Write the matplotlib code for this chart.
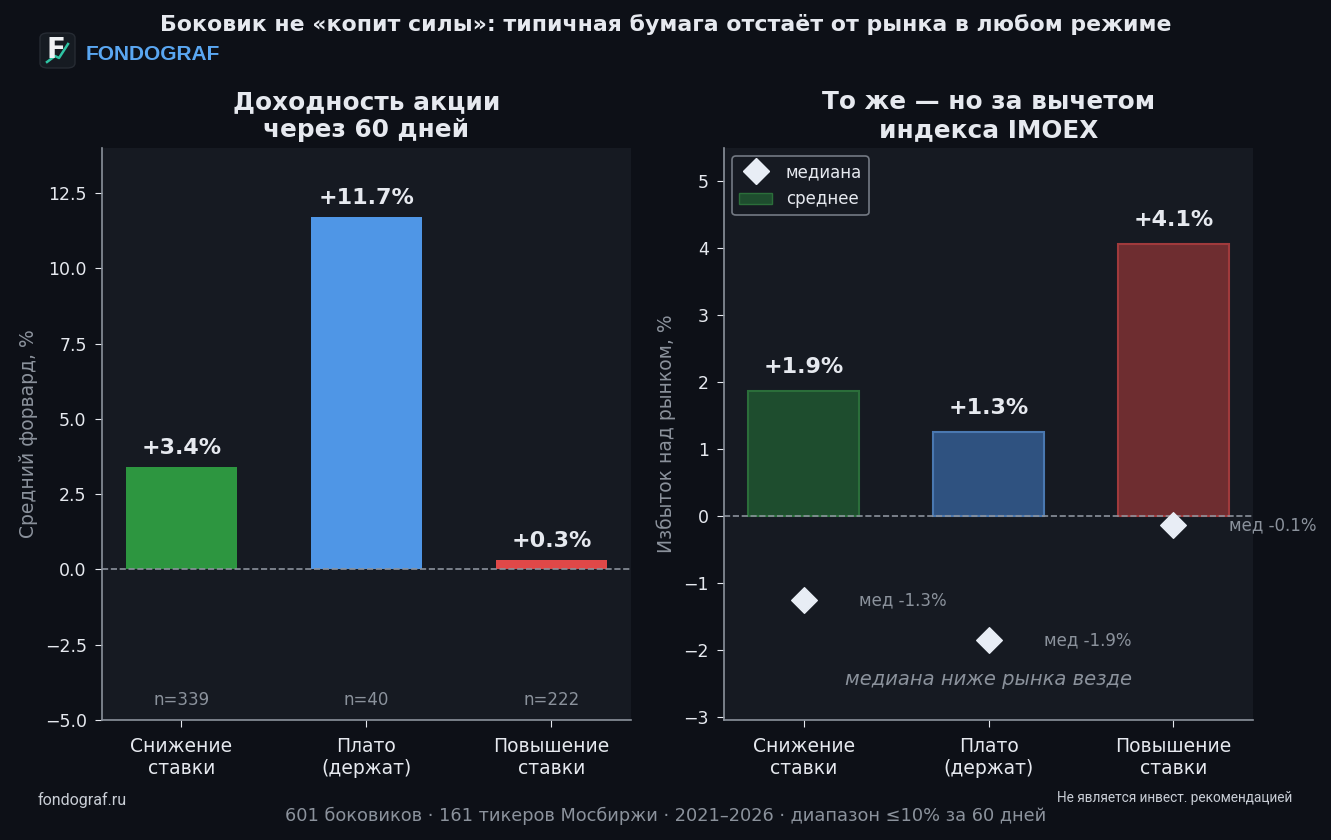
import matplotlib.pyplot as plt
from matplotlib.patches import FancyBboxPatch, Patch
from matplotlib.lines import Line2D

plt.rcParams['font.family'] = ['DejaVu Sans']

# данные
regimes = ["Снижение\nставки", "Плато\n(держат)", "Повышение\nставки"]
mean_fwd = [3.4, 11.7, 0.3]
counts = [339, 40, 222]
mean_excess = [1.87, 1.26, 4.07]
median_excess = [-1.26, -1.86, -0.14]

bg = "#0d1017"
ax_bg = "#161a22"
txt = "#e6e9ef"
grey = "#8b929c"
colors = ["#2d9640", "#4f96e6", "#e04848"]
face2 = ["#1e4d2e", "#2f5280", "#6e2d30"]
edge2 = ["#2b6e3a", "#4a78b0", "#a03a3c"]

fig = plt.figure(figsize=(13.31, 8.4), dpi=100, facecolor=bg)
ax1 = fig.add_axes([0.0766, 0.1429, 0.3974, 0.6809])
ax2 = fig.add_axes([0.544, 0.1429, 0.3974, 0.6809])

x = list(range(len(regimes)))

for ax in (ax1, ax2):
    ax.set_facecolor(ax_bg)
    for s in ("top", "right"):
        ax.spines[s].set_visible(False)
    for s in ("left", "bottom"):
        ax.spines[s].set_color(grey)
        ax.spines[s].set_linewidth(1.2)
    ax.tick_params(colors=txt, labelsize=12.5, length=5, pad=6)
    ax.set_xticks(x)
    ax.set_xticklabels(regimes, fontsize=13.5, color=txt)
    ax.tick_params(axis="x", pad=7)
    ax.set_xlim(-0.43, 2.43)

# левый график
ax1.bar(x, mean_fwd, width=0.6, color=colors)
ax1.axhline(0, color=grey, ls="--", lw=1.2)
ax1.set_ylim(-5, 14)
ax1.set_yticks([-5, -2.5, 0, 2.5, 5, 7.5, 10, 12.5])
ax1.set_ylabel("Средний форвард, %", color=grey, fontsize=13.5, labelpad=5)
ax1.set_title("Доходность акции\nчерез 60 дней", color=txt, fontsize=17.8,
              fontweight="bold", pad=8)
for xi, v, n in zip(x, mean_fwd, counts):
    ax1.text(xi, v + 0.3, f"{v:+.1f}%", ha="center", va="bottom", color=txt,
             fontsize=16, fontweight="bold")
    ax1.text(xi, -4.35, f"n={n}", ha="center", va="center", color=grey, fontsize=12)

# правый график
ax2.bar(x, mean_excess, width=0.6, color=face2, edgecolor=edge2, linewidth=1.5)
ax2.axhline(0, color=grey, ls="--", lw=1.2)
ax2.scatter(x, median_excess, marker="D", s=170, color="#e8edf5", zorder=5)
ax2.set_ylim(-3.05, 5.5)
ax2.set_yticks(range(-3, 6))
ax2.set_ylabel("Избыток над рынком, %", color=grey, fontsize=13.5, labelpad=5)
ax2.set_title("То же — но за вычетом\nиндекса IMOEX", color=txt, fontsize=17.8,
              fontweight="bold", pad=8)
for xi, v, m in zip(x, mean_excess, median_excess):
    ax2.text(xi, v + 0.2, f"{v:+.1f}%", ha="center", va="bottom", color=txt,
             fontsize=16, fontweight="bold")
    ax2.text(xi + 0.3, m, f"мед {m:.1f}%", ha="left", va="center", color=grey,
             fontsize=12, clip_on=False)
ax2.text(1, -2.45, "медиана ниже рынка везде", ha="center", va="center",
         color=grey, fontsize=14, style="italic")

handles = [Line2D([], [], marker="D", ls="", markersize=13, color="#e8edf5"),
           Patch(facecolor="#1e4d2e", edgecolor="#2b6e3a")]
leg = ax2.legend(handles, ["медиана", "среднее"], loc="upper left",
                 facecolor=ax_bg, edgecolor=grey, labelcolor=txt, fontsize=12,
                 labelspacing=0.55)
leg.get_frame().set_linewidth(1.2)

# шапка и подвал
fig.text(0.5, 0.971, "Боковик не «копит силы»: типичная бумага отстаёт от рынка в любом режиме",
         ha="center", va="center", color=txt, fontsize=15.8, fontweight="bold")
logo = FancyBboxPatch((40 / 1331, 1 - 68 / 840), 35 / 1331, 35 / 840,
                      boxstyle="round,pad=0,rounding_size=0.006",
                      transform=fig.transFigure, facecolor="#161b22",
                      edgecolor="#262b33", lw=1)
fig.patches.append(logo)
fig.text(56 / 1331, 1 - 50 / 840, "F", ha="center", va="center", color="#f0f2f5",
         fontsize=20, fontweight="bold")
fig.lines.append(Line2D([47 / 1331, 55 / 1331, 59 / 1331, 68 / 1331],
                        [1 - 62 / 840, 1 - 56 / 840, 1 - 58 / 840, 1 - 44 / 840],
                        transform=fig.transFigure, color="#2fc4a4", lw=1.8))
fig.text(86 / 1331, 1 - 54 / 840, "FONDOGRAF", ha="left", va="center",
         color="#5aa7f2", fontsize=15, fontweight="bold", family="Liberation Sans")
fig.text(38 / 1331, 1 - 800 / 840, "fondograf.ru", ha="left", va="center",
         color="#c9ced6", fontsize=11.5, family="Roboto")
fig.text(1292 / 1331, 1 - 798 / 840, "Не является инвест. рекомендацией", ha="right",
         va="center", color="#c9ced6", fontsize=9.8, family="Roboto")
fig.text(0.5, 1 - 816 / 840,
         "601 боковиков · 161 тикеров Мосбиржи · 2021–2026 · диапазон ≤10% за 60 дней",
         ha="center", va="center", color=grey, fontsize=12.75)

fig.savefig("out.png", dpi=100, facecolor=bg)
